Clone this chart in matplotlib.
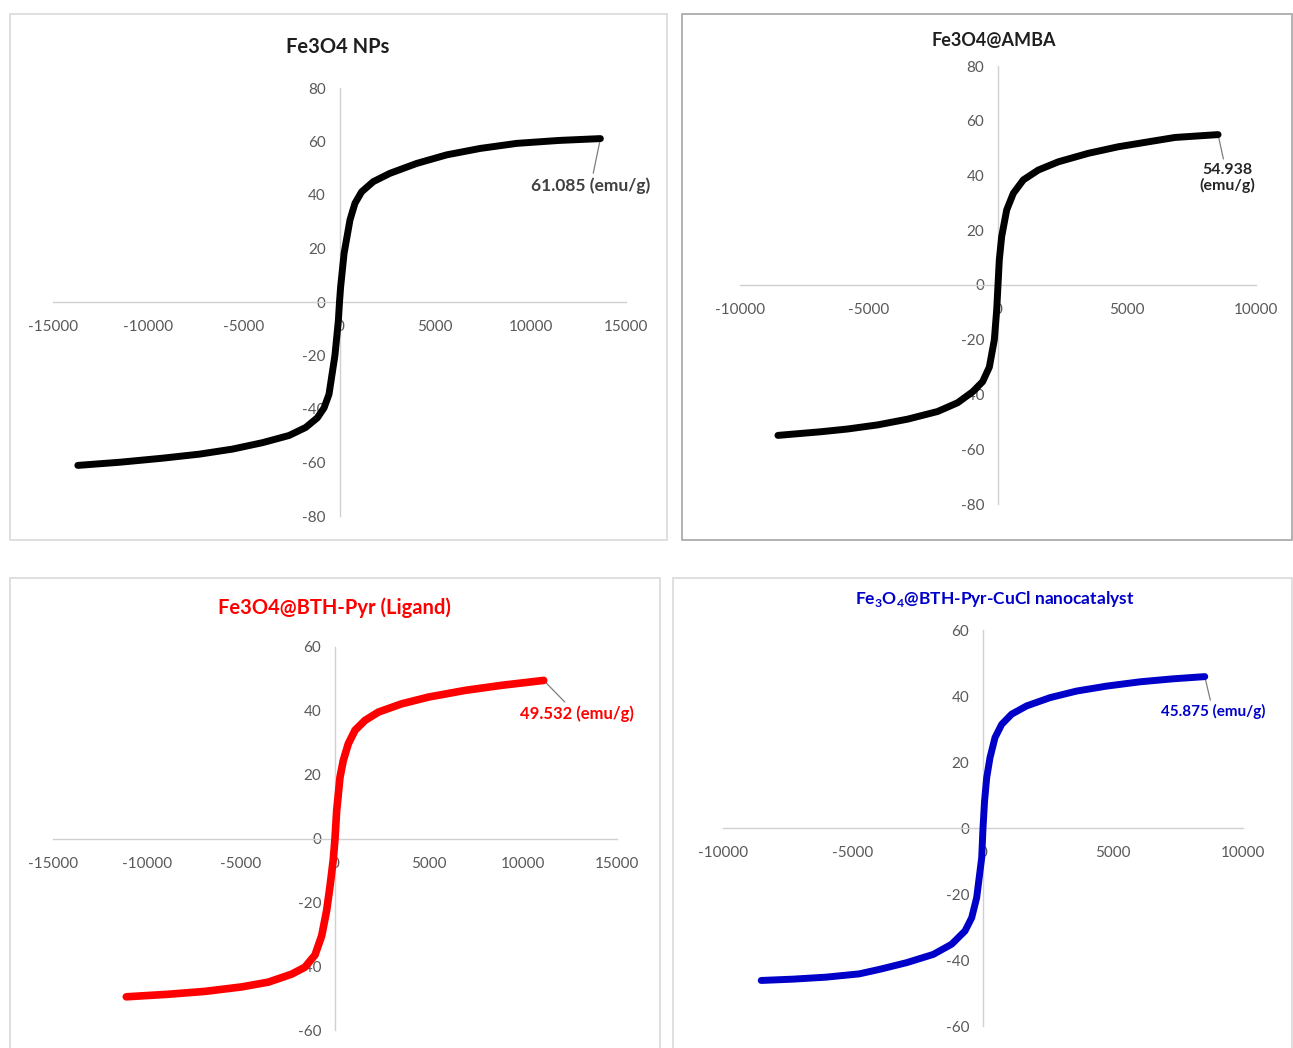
import matplotlib
matplotlib.use("Agg")
import matplotlib.pyplot as plt
from matplotlib.patches import Rectangle

plt.rcParams['font.family'] = ['Lato', 'DejaVu Sans']
plt.rcParams['mathtext.fontset'] = 'custom'
plt.rcParams['mathtext.rm'] = 'Lato'
plt.rcParams['mathtext.bf'] = 'Lato:bold'
plt.rcParams['axes.unicode_minus'] = False

W, H = 1293, 1048

# VSM magnetisation curves: field (Oe) vs magnetisation (emu/g)
field_np = [-13700, -11500, -9280, -7360, -5610, -4040, -2640, -1770, -1160, -810, -550, -240, -60, 0,
            60, 240, 550, 810, 1160, 1770, 2640, 4040, 5610, 7360, 9280, 11500, 13660]
mag_np = [-61.085, -59.9, -58.4, -56.9, -55.0, -52.6, -49.9, -46.9, -43.3, -39.6, -34.5, -20.0, -7.0, 0,
          5.7, 18.2, 30.7, 36.9, 41.2, 45.0, 48.1, 51.8, 55.0, 57.4, 59.3, 60.4, 61.085]

field_amba = [-8530, -6860, -5826, -4663, -3500, -2338, -1563, -982, -595, -336, -142, -50, 0,
              50, 142, 336, 595, 982, 1563, 2338, 3500, 4663, 5826, 6860, 8530]
mag_amba = [-54.938, -53.6, -52.6, -51.1, -49.0, -46.2, -43.0, -39.0, -35.3, -30.0, -20.0, -9.0, 0,
            9.1, 17.7, 27.4, 33.5, 38.4, 42.0, 45.0, 48.1, 50.5, 52.3, 53.9, 54.938]

field_lig = [-11100, -8865, -6915, -4965, -3546, -2305, -1596, -1064, -709, -443, -266, -90, 0,
             90, 266, 443, 709, 1064, 1596, 2305, 3546, 4965, 6915, 8865, 11100]
mag_lig = [-49.6, -48.8, -47.9, -46.5, -45.0, -42.5, -40.3, -36.5, -30.5, -22.5, -15.0, -6.5, 0,
           8.8, 19.2, 24.5, 29.7, 33.9, 37.0, 39.6, 42.2, 44.3, 46.4, 48.0, 49.532]

field_cat = [-8530, -7300, -6038, -4757, -3960, -2934, -1911, -1204, -692, -435, -243, -50, 0,
             60, 141, 269, 462, 718, 1102, 1680, 2577, 3603, 4757, 6038, 7300, 8530]
mag_cat = [-46.2, -45.8, -45.2, -44.2, -42.8, -40.8, -38.3, -35.2, -31.2, -27.2, -21.1, -9.0, 0,
           8.2, 15.2, 21.3, 27.4, 31.4, 34.5, 37.0, 39.5, 41.5, 43.0, 44.3, 45.2, 45.875]

titles = ['Fe3O4 NPs', 'Fe3O4@AMBA', 'Fe3O4@BTH-Pyr (Ligand)',
          r'Fe$_\mathbf{3}$O$_\mathbf{4}$@BTH-Pyr-CuCl nanocatalyst']
ms_labels = ['61.085 (emu/g)', '54.938\n(emu/g)', '49.532 (emu/g)', '45.875 (emu/g)']
xticks_wide = [-15000, -10000, -5000, 0, 5000, 10000, 15000]
xticks_narrow = [-10000, -5000, 0, 5000, 10000]
yticks_80 = [-80, -60, -40, -20, 0, 20, 40, 60, 80]
yticks_60 = [-60, -40, -20, 0, 20, 40, 60]

fig = plt.figure(figsize=(W / 100, H / 100), dpi=100)


def px_box(x0, y0, x1, y1):
    # pixel box (top-left origin) -> figure fraction [left, bottom, width, height]
    return [x0 / W, 1 - y1 / H, (x1 - x0) / W, (y1 - y0) / H]


# chart-area frames
for x0, y0, x1, y1, ec in [(10, 14, 667, 540, '#d9d9d9'), (682, 14, 1292, 540, '#a6a6a6'),
                           (10, 578, 660, 1052, '#d9d9d9'), (673, 578, 1292, 1052, '#d9d9d9')]:
    b = px_box(x0, y0, x1, y1)
    fig.add_artist(Rectangle((b[0], b[1]), b[2], b[3], transform=fig.transFigure,
                             fill=False, ec=ec, lw=1.2))

panels = [
    dict(box=(53, 88, 626, 516), x=field_np, y=mag_np, color='black', xlim=15000, ylim=80,
         xt=xticks_wide, yt=yticks_80, title_xy=(338, 47), tcolor='#1e1e1e', tsize=14.5,
         lab_xy=(13150, 43.5), lcolor='#404040', lsize=12.5, lw=5.0),
    dict(box=(740, 66, 1256, 504), x=field_amba, y=mag_amba, color='black', xlim=10000, ylim=80,
         xt=xticks_narrow, yt=yticks_80, title_xy=(994, 40), tcolor='#1e1e1e', tsize=13,
         lab_xy=(8900, 39.0), lcolor='#262626', lsize=11.5, lw=5.0),
    dict(box=(53, 647, 617, 1030), x=field_lig, y=mag_lig, color='#ff0000', xlim=15000, ylim=60,
         xt=xticks_wide, yt=yticks_60, title_xy=(334, 608), tcolor='#ff0000', tsize=14.5,
         lab_xy=(12850, 39.0), lcolor='#ff0000', lsize=12, lw=5.5),
    dict(box=(723, 630, 1243, 1026), x=field_cat, y=mag_cat, color='#0000c8', xlim=10000, ylim=60,
         xt=xticks_narrow, yt=yticks_60, title_xy=(995, 599), tcolor='#0000c8', tsize=12.5,
         lab_xy=(8850, 35.2), lcolor='#0000c8', lsize=11, lw=5.0),
]

for p, title, lab in zip(panels, titles, ms_labels):
    ax = fig.add_axes(px_box(*p['box']))
    ax.plot(p['x'], p['y'], color=p['color'], lw=p['lw'], solid_capstyle='round',
            solid_joinstyle='round', zorder=5)
    ax.set_xlim(-p['xlim'], p['xlim'])
    ax.set_ylim(-p['ylim'], p['ylim'])
    ax.set_xticks(p['xt'])
    ax.set_yticks(p['yt'])
    ax.spines['left'].set_position(('data', 0))
    ax.spines['bottom'].set_position(('data', 0))
    for side in ['top', 'right']:
        ax.spines[side].set_visible(False)
    for side in ['left', 'bottom']:
        ax.spines[side].set_color('#d0d0d0')
        ax.spines[side].set_linewidth(1.0)
    ax.tick_params(axis='x', length=0, pad=13, labelsize=11, labelcolor='#595959')
    ax.tick_params(axis='y', length=0, pad=10, labelsize=11, labelcolor='#595959')
    ax.patch.set_alpha(0)

    ax.annotate(lab, xy=(p['x'][-1], p['y'][-1]), xytext=p['lab_xy'], ha='center', va='center',
                fontsize=p['lsize'], fontweight='bold', color=p['lcolor'], annotation_clip=False,
                linespacing=1.1,
                arrowprops=dict(arrowstyle='-', color='#7f7f7f', lw=0.9, shrinkA=1, shrinkB=0))

    fig.text(p['title_xy'][0] / W, 1 - p['title_xy'][1] / H, title, ha='center', va='center',
             fontsize=p['tsize'], fontweight='bold', color=p['tcolor'])

fig.savefig('out.png', dpi=100)
